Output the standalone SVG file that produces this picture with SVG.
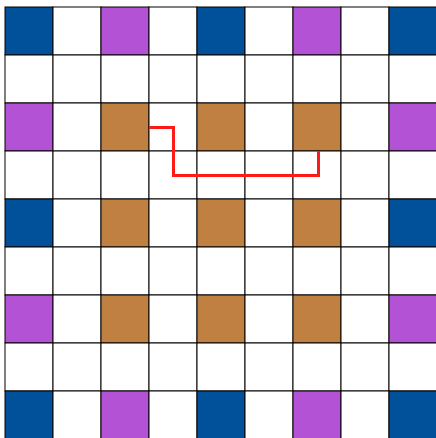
<svg xmlns="http://www.w3.org/2000/svg" width="436" height="438" viewBox="0 0 436 438">
<style>
.c{stroke:#000;stroke-width:1}
.w{fill:#fff}
.b{fill:#00509A}
.p{fill:#B452D6}
.o{fill:#C08042}
.r{fill:none;stroke:#FF1A1A;stroke-width:3}
</style>
<rect width="436" height="438" fill="#fff"/>
<g id="grid">
<g transform="translate(5,7)">
<rect class="c b" x="0" y="0" width="48" height="48"/><rect class="c w" x="48" y="0" width="48" height="48"/><rect class="c p" x="96" y="0" width="48" height="48"/><rect class="c w" x="144" y="0" width="48" height="48"/><rect class="c b" x="192" y="0" width="48" height="48"/><rect class="c w" x="240" y="0" width="48" height="48"/><rect class="c p" x="288" y="0" width="48" height="48"/><rect class="c w" x="336" y="0" width="48" height="48"/><rect class="c b" x="384" y="0" width="48" height="48"/>
<rect class="c w" x="0" y="48" width="48" height="48"/><rect class="c w" x="48" y="48" width="48" height="48"/><rect class="c w" x="96" y="48" width="48" height="48"/><rect class="c w" x="144" y="48" width="48" height="48"/><rect class="c w" x="192" y="48" width="48" height="48"/><rect class="c w" x="240" y="48" width="48" height="48"/><rect class="c w" x="288" y="48" width="48" height="48"/><rect class="c w" x="336" y="48" width="48" height="48"/><rect class="c w" x="384" y="48" width="48" height="48"/>
<rect class="c p" x="0" y="96" width="48" height="48"/><rect class="c w" x="48" y="96" width="48" height="48"/><rect class="c o" x="96" y="96" width="48" height="48"/><rect class="c w" x="144" y="96" width="48" height="48"/><rect class="c o" x="192" y="96" width="48" height="48"/><rect class="c w" x="240" y="96" width="48" height="48"/><rect class="c o" x="288" y="96" width="48" height="48"/><rect class="c w" x="336" y="96" width="48" height="48"/><rect class="c p" x="384" y="96" width="48" height="48"/>
<rect class="c w" x="0" y="144" width="48" height="48"/><rect class="c w" x="48" y="144" width="48" height="48"/><rect class="c w" x="96" y="144" width="48" height="48"/><rect class="c w" x="144" y="144" width="48" height="48"/><rect class="c w" x="192" y="144" width="48" height="48"/><rect class="c w" x="240" y="144" width="48" height="48"/><rect class="c w" x="288" y="144" width="48" height="48"/><rect class="c w" x="336" y="144" width="48" height="48"/><rect class="c w" x="384" y="144" width="48" height="48"/>
<rect class="c b" x="0" y="192" width="48" height="48"/><rect class="c w" x="48" y="192" width="48" height="48"/><rect class="c o" x="96" y="192" width="48" height="48"/><rect class="c w" x="144" y="192" width="48" height="48"/><rect class="c o" x="192" y="192" width="48" height="48"/><rect class="c w" x="240" y="192" width="48" height="48"/><rect class="c o" x="288" y="192" width="48" height="48"/><rect class="c w" x="336" y="192" width="48" height="48"/><rect class="c b" x="384" y="192" width="48" height="48"/>
<rect class="c w" x="0" y="240" width="48" height="48"/><rect class="c w" x="48" y="240" width="48" height="48"/><rect class="c w" x="96" y="240" width="48" height="48"/><rect class="c w" x="144" y="240" width="48" height="48"/><rect class="c w" x="192" y="240" width="48" height="48"/><rect class="c w" x="240" y="240" width="48" height="48"/><rect class="c w" x="288" y="240" width="48" height="48"/><rect class="c w" x="336" y="240" width="48" height="48"/><rect class="c w" x="384" y="240" width="48" height="48"/>
<rect class="c p" x="0" y="288" width="48" height="48"/><rect class="c w" x="48" y="288" width="48" height="48"/><rect class="c o" x="96" y="288" width="48" height="48"/><rect class="c w" x="144" y="288" width="48" height="48"/><rect class="c o" x="192" y="288" width="48" height="48"/><rect class="c w" x="240" y="288" width="48" height="48"/><rect class="c o" x="288" y="288" width="48" height="48"/><rect class="c w" x="336" y="288" width="48" height="48"/><rect class="c p" x="384" y="288" width="48" height="48"/>
<rect class="c w" x="0" y="336" width="48" height="48"/><rect class="c w" x="48" y="336" width="48" height="48"/><rect class="c w" x="96" y="336" width="48" height="48"/><rect class="c w" x="144" y="336" width="48" height="48"/><rect class="c w" x="192" y="336" width="48" height="48"/><rect class="c w" x="240" y="336" width="48" height="48"/><rect class="c w" x="288" y="336" width="48" height="48"/><rect class="c w" x="336" y="336" width="48" height="48"/><rect class="c w" x="384" y="336" width="48" height="48"/>
<rect class="c b" x="0" y="384" width="48" height="48"/><rect class="c w" x="48" y="384" width="48" height="48"/><rect class="c p" x="96" y="384" width="48" height="48"/><rect class="c w" x="144" y="384" width="48" height="48"/><rect class="c b" x="192" y="384" width="48" height="48"/><rect class="c w" x="240" y="384" width="48" height="48"/><rect class="c p" x="288" y="384" width="48" height="48"/><rect class="c w" x="336" y="384" width="48" height="48"/><rect class="c b" x="384" y="384" width="48" height="48"/>
</g>
</g>
<g id="connectors">
<path class="r" d="M149,127.5 H173.5 V175.5 H318.5 V151"/>
</g>
</svg>
